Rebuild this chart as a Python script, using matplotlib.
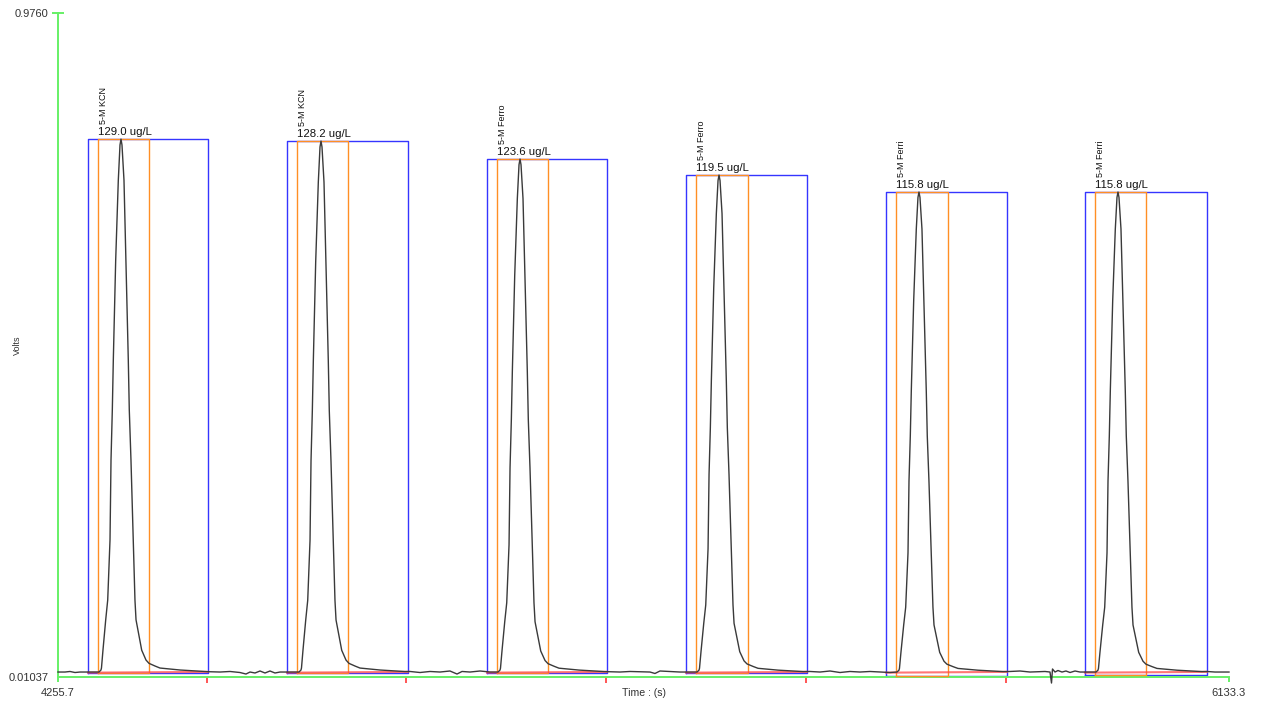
import matplotlib

matplotlib.use("Agg")
import matplotlib.pyplot as plt
import numpy as np

# peak annotations
names = ["5-M KCN", "5-M KCN", "5-M Ferro", "5-M Ferro", "5-M Ferri", "5-M Ferri"]
conc_labels = ["129.0 ug/L", "128.2 ug/L", "123.6 ug/L", "119.5 ug/L", "115.8 ug/L", "115.8 ug/L"]

# peaks (time s, apex volts)
peak_times = [4356.7, 4677.4, 4996.5, 5315.6, 5636.2, 5955.3]
peak_volts = [0.7926, 0.7897, 0.7636, 0.7403, 0.7156, 0.7156]
peak_base = 0.0176

# integration boxes
box_start = [4303.8, 4622.9, 4943.6, 5262.6, 5583.3, 5902.4]
box_end = [4496.2, 4816.9, 5136.0, 5456.6, 5777.3, 6098.0]
box_bottom = [0.0162, 0.0162, 0.0162, 0.0162, 0.0118, 0.0133]
window_start = [4319.8, 4638.9, 4959.6, 5278.7, 5599.4, 5918.4]
window_end = [4401.6, 4720.7, 5041.4, 5362.1, 5682.7, 6000.2]
baseline_v = [0.0167, 0.0178]
integration_end = [4494.6, 4814.4, 5134.9, 5455.6, 5775.5]

# digitised peak shape: offset from apex (s), fraction of peak height
profile_dt = [-35.3, -33.7, -32.1, -31.3, -28.9, -24.5, -21.3, -17.6, -16.0, -13.9, -12.3,
              -8.5, -4.3, -1.6, 0.0,
              1.6, 4.8, 6.7, 7.9, 11.7, 13.3, 16.0, 19.7, 22.4, 24.1, 33.2, 40.1, 44.9,
              54.5, 62.5, 94.6, 134.7]
profile_frac = [0.0, 0.002, 0.0038, 0.0075, 0.041, 0.098, 0.135, 0.248, 0.398, 0.492, 0.586,
                0.773, 0.923, 0.989, 1.0,
                0.989, 0.923, 0.829, 0.773, 0.586, 0.492, 0.398, 0.248, 0.135, 0.098, 0.041,
                0.0225, 0.0163, 0.0113, 0.0075, 0.0038, 0.0009]

# digitised baseline between peaks
base_t = [4255.7, 4266.9, 4274.9, 4283.0, 4291.0, 4300.6,
          4496.2, 4515.5, 4531.5, 4547.5, 4557.1, 4563.6, 4571.6, 4579.6, 4587.6, 4595.6,
          4603.6, 4611.7, 4622.9, 4635.7,
          4820.1, 4836.1, 4852.2, 4868.2, 4884.2, 4895.5, 4903.5, 4916.3, 4932.4, 4948.4,
          5137.6, 5156.8, 5172.8, 5204.9, 5212.9, 5220.9, 5237.0, 5253.0, 5269.0,
          5461.4, 5477.5, 5493.5, 5509.5, 5525.5, 5541.6, 5557.6, 5573.7, 5589.7,
          5782.2, 5798.2, 5814.2, 5838.3, 5846.3, 5848.7, 5850.3, 5854.3, 5859.1, 5865.5,
          5871.9, 5878.4, 5886.4, 5894.4, 5902.4,
          6098.0, 6110.8, 6133.3]
base_v = [0.0176, 0.0176, 0.0184, 0.0169, 0.0176, 0.0176,
          0.0181, 0.0176, 0.0184, 0.0169, 0.0147, 0.0176, 0.0162, 0.0191, 0.0162, 0.0191,
          0.0162, 0.0176, 0.0176, 0.0176,
          0.0184, 0.0169, 0.0184, 0.0176, 0.0191, 0.0147, 0.0184, 0.0176, 0.0191, 0.0176,
          0.0181, 0.0176, 0.0184, 0.0176, 0.0155, 0.0191, 0.0184, 0.0176, 0.0176,
          0.0184, 0.0176, 0.0191, 0.0169, 0.0184, 0.0176, 0.0184, 0.0176, 0.0169,
          0.0184, 0.0191, 0.0176, 0.0184, 0.0176, 0.0016, 0.0220, 0.0176, 0.0198, 0.0176,
          0.0191, 0.0169, 0.0191, 0.0176, 0.0176,
          0.0184, 0.0176, 0.0176]

x_ticks = [4255.7, 6133.3]
y_ticks = [0.01037, 0.9760]
y_tick_labels = ["0.01037", "0.9760"]

GREEN = "#66f066"
BLUE = "#3535ff"
ORANGE = "#ff8f24"
RED = "#ff4848"
TEXT = "#333333"

plt.rcParams["font.family"] = ["Liberation Sans", "DejaVu Sans"]

fig = plt.figure(figsize=(12.61, 7.04), dpi=100, facecolor="white")
ax = fig.add_axes([58 / 1261, 1 - 677 / 704, 1171 / 1261, 664 / 704])
ax.set_xlim(x_ticks[0], x_ticks[1])
ax.set_ylim(y_ticks[0], y_ticks[1])

# boxes, windows and integration baselines
for i in range(len(peak_times)):
    top = peak_volts[i]
    ax.plot([box_start[i], box_start[i], box_end[i], box_end[i], box_start[i]],
            [box_bottom[i], top, top, box_bottom[i], box_bottom[i]],
            color=BLUE, lw=1.0, clip_on=False, zorder=2)
    ax.plot([window_start[i], window_start[i], window_end[i], window_end[i], window_start[i]],
            [box_bottom[i], top, top, box_bottom[i], box_bottom[i]],
            color=ORANGE, lw=1.0, clip_on=False, zorder=3)
    ax.plot([box_start[i], box_end[i]], baseline_v, color=RED, lw=1.5, alpha=0.75,
            clip_on=False, zorder=4)

    ax.annotate(conc_labels[i], (window_start[i], top), xytext=(0, 1.2),
                textcoords="offset points", ha="left", va="bottom",
                fontsize=8.2, color="#111111")
    ax.annotate(names[i], (window_start[i], top), xytext=(0.8, 10.8),
                textcoords="offset points", ha="left", va="bottom", rotation=90,
                fontsize=6.5, color="#111111")

# detector trace
t_all = list(base_t)
v_all = list(base_v)
for tp, vp in zip(peak_times, peak_volts):
    for dt, f in zip(profile_dt, profile_frac):
        t_all.append(tp + dt)
        v_all.append(peak_base + f * (vp - peak_base))
order = np.argsort(t_all)
ax.plot(np.array(t_all)[order], np.array(v_all)[order], color="#3a3a3a", lw=1.0,
        clip_on=False, zorder=5)

# axes
for side in ["top", "right"]:
    ax.spines[side].set_visible(False)
for side in ["left", "bottom"]:
    ax.spines[side].set_color(GREEN)
    ax.spines[side].set_linewidth(1.4)

ax.set_yticks(y_ticks)
ax.set_yticklabels(y_tick_labels)
ax.tick_params(axis="y", direction="inout", length=8, width=1.4, color=GREEN,
               labelsize=8, labelcolor=TEXT, pad=3)
ax.yaxis.get_major_ticks()[0].tick1line.set_visible(False)

ax.set_xticks(x_ticks)
ax.set_xticklabels([f"{v:.1f}" for v in x_ticks])
ax.tick_params(axis="x", direction="out", length=3.6, width=1.4, color=GREEN,
               labelsize=8, labelcolor=TEXT, pad=4)
ax.set_xticks(integration_end, minor=True)
ax.tick_params(axis="x", which="minor", direction="out", length=4.5, width=1.3,
               color=RED, labelbottom=False)

ax.set_xlabel("Time : (s)", fontsize=7.6, color=TEXT)
ax.xaxis.set_label_coords(0.5, -0.0166)
ax.set_ylabel("Volts", fontsize=6.5, color=TEXT)
ax.yaxis.set_label_coords(-0.0307, 0.5)

fig.savefig("out.png", dpi=100, facecolor="white")
